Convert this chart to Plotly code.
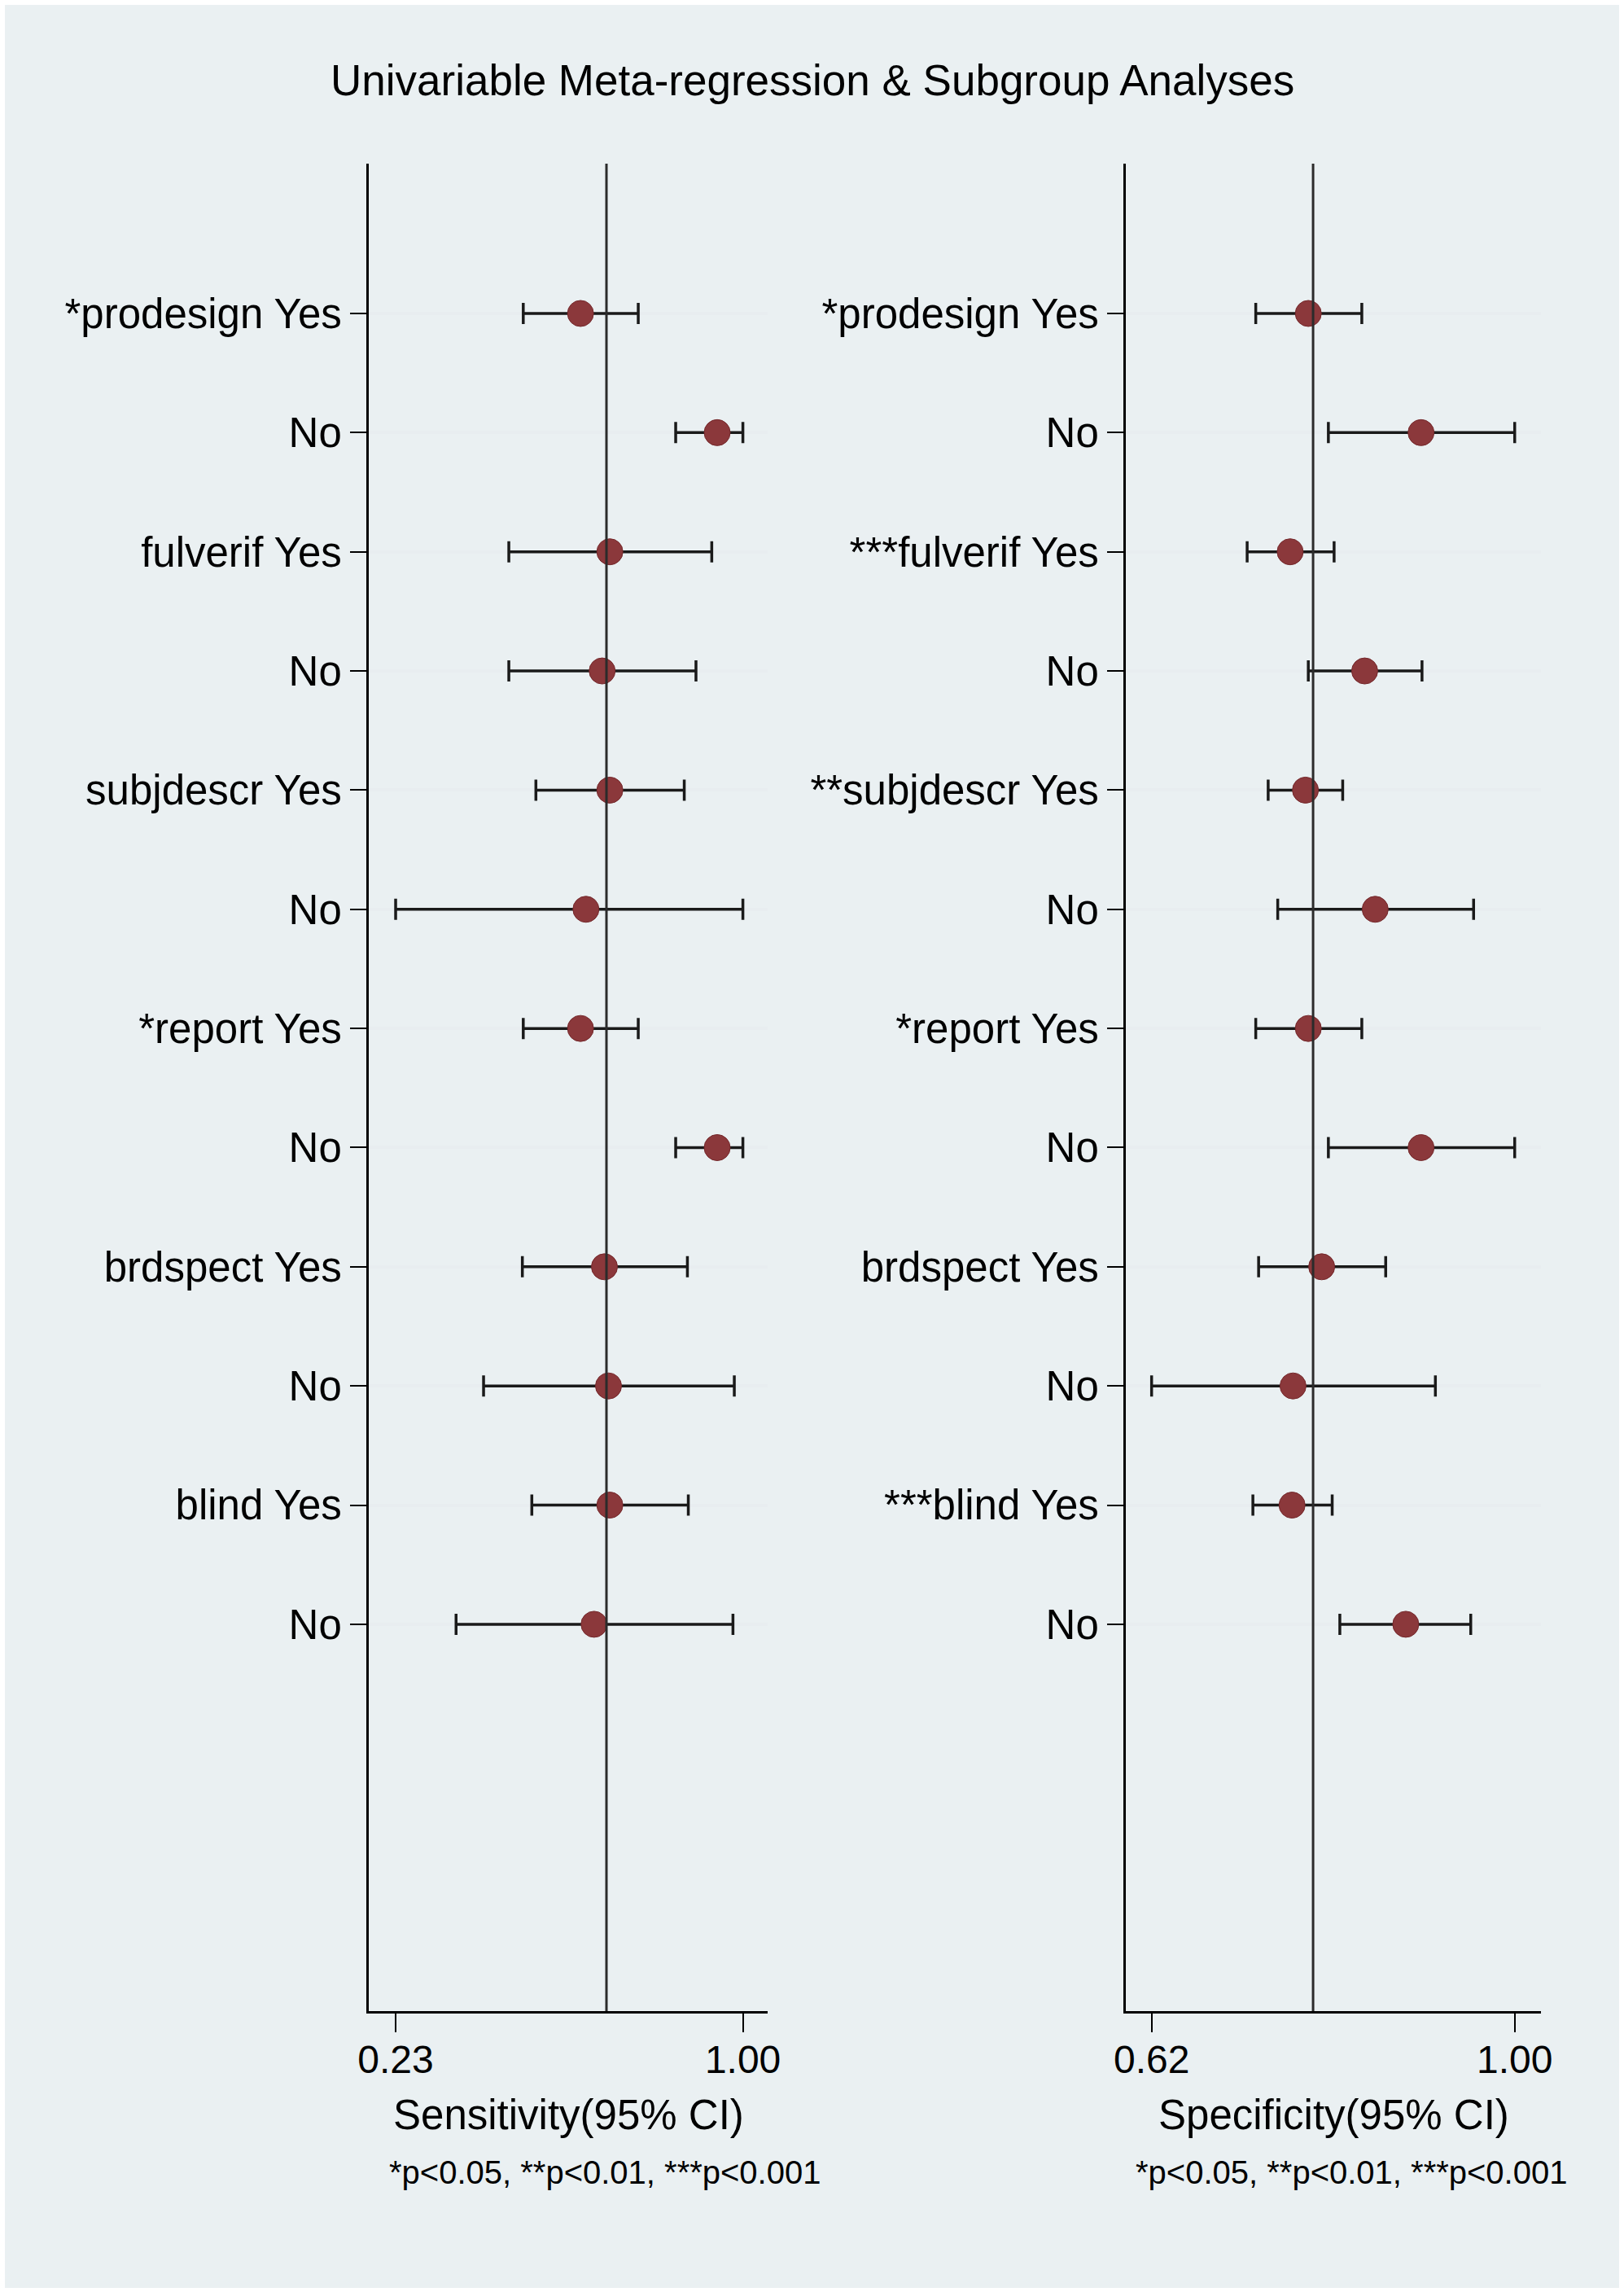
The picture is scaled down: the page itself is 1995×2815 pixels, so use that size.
import plotly.graph_objects as go
from plotly.subplots import make_subplots

# --- data (top row first) ---
rows = list(range(1, 13))

sens_labels = ["*prodesign Yes", "No", "fulverif Yes", "No", "subjdescr Yes", "No",
               "*report Yes", "No", "brdspect Yes", "No", "blind Yes", "No"]
spec_labels = ["*prodesign Yes", "No", "***fulverif Yes", "No", "**subjdescr Yes", "No",
               "*report Yes", "No", "brdspect Yes", "No", "***blind Yes", "No"]

sens_est = [0.640, 0.943, 0.705, 0.688, 0.705, 0.652, 0.640, 0.943, 0.693, 0.702, 0.705, 0.670]
sens_lo = [0.513, 0.851, 0.481, 0.481, 0.541, 0.230, 0.513, 0.851, 0.511, 0.425, 0.532, 0.364]
sens_hi = [0.768, 1.000, 0.931, 0.896, 0.870, 1.000, 0.768, 1.000, 0.877, 0.981, 0.879, 0.978]
sens_pooled = 0.6975

spec_est = [0.784, 0.902, 0.765, 0.843, 0.781, 0.854, 0.784, 0.902, 0.798, 0.768, 0.767, 0.886]
spec_lo = [0.729, 0.805, 0.720, 0.784, 0.742, 0.752, 0.729, 0.805, 0.732, 0.620, 0.726, 0.817]
spec_hi = [0.840, 1.000, 0.811, 0.903, 0.820, 0.957, 0.840, 1.000, 0.865, 0.917, 0.809, 0.954]
spec_pooled = 0.789

sens_ticks = [0.23, 1.00]
spec_ticks = [0.62, 1.00]

W, H = 1995, 2815
FONT = "Liberation Sans, Arial, Helvetica, sans-serif"
BG = "#EAF0F2"
DOT = "#8B383B"

fig = make_subplots(rows=1, cols=2)


def add_panel(col, est, lo, hi):
    fig.add_trace(go.Scatter(
        x=est, y=rows, mode="markers",
        marker=dict(size=32, color=DOT, line=dict(width=1, color="#74282b")),
        error_x=dict(type="data", symmetric=False,
                     array=[h - e for h, e in zip(hi, est)],
                     arrayminus=[e - l for e, l in zip(est, lo)],
                     color="#1a1a1a", thickness=3.5, width=13),
        showlegend=False, hoverinfo="x+y",
    ), row=1, col=col)


add_panel(1, sens_est, sens_lo, sens_hi)
add_panel(2, spec_est, spec_lo, spec_hi)

# pooled reference lines
for xref, val in (("x", sens_pooled), ("x2", spec_pooled)):
    fig.add_shape(type="line", xref=xref, yref=xref.replace("x", "y") + " domain",
                  x0=val, x1=val, y0=0, y1=1,
                  line=dict(color="#2b2b2b", width=3), layer="above")

# outer background panel with thin white border
fig.add_shape(type="rect", xref="paper", yref="paper",
              x0=6 / W, x1=1 - 6 / W, y0=5 / H, y1=1 - 6 / H,
              fillcolor=BG, line=dict(width=0), layer="below")

y_top, y_bot = 201, 2470
ydom = [1 - y_bot / H, 1 - y_top / H]
yrange = [15.246, -0.257]

axis_common = dict(showgrid=False, zeroline=False, showline=True, linecolor="black",
                   linewidth=3, ticks="outside", ticklen=23, tickwidth=2,
                   tickcolor="black", tickformat=".2f", automargin=False,
                   tickfont=dict(family=FONT, size=48, color="black"),
                   ticklabelstandoff=-8)
yaxis_common = dict(range=yrange, tickvals=rows, showgrid=True, gridcolor="#E8EDF0",
                    gridwidth=4, zeroline=False, showline=True, linecolor="black",
                    linewidth=3, ticks="outside", ticklen=20, tickwidth=2,
                    tickcolor="black", automargin=False,
                    tickfont=dict(family=FONT, size=51, color="black"),
                    ticklabelstandoff=0)

fig.update_xaxes(domain=[453 / W, 943 / W], range=[0.1704, 1.0549],
                 tickvals=sens_ticks, row=1, col=1, **axis_common)
fig.update_xaxes(domain=[1383 / W, 1893 / W], range=[0.593, 1.0275],
                 tickvals=spec_ticks, row=1, col=2, **axis_common)
fig.update_yaxes(domain=ydom, ticktext=sens_labels, row=1, col=1, **yaxis_common)
fig.update_yaxes(domain=ydom, ticktext=spec_labels, row=1, col=2, **yaxis_common)

notes = "*p<0.05, **p<0.01, ***p<0.001"
annots = [
    dict(text="Univariable Meta-regression & Subgroup Analyses", x=0.5, y=1 - 98 / H,
         font=dict(size=53)),
    dict(text="Sensitivity(95% CI)", x=698 / W, y=1 - 2597 / H, font=dict(size=51)),
    dict(text="Specificity(95% CI)", x=1638 / W, y=1 - 2597 / H, font=dict(size=51)),
    dict(text=notes, x=476 / W, y=1 - 2668 / H, xanchor="left", font=dict(size=40)),
    dict(text=notes, x=1393 / W, y=1 - 2668 / H, xanchor="left", font=dict(size=40)),
]
for a in annots:
    a.setdefault("xanchor", "center")
    a["font"].update(family=FONT, color="black")
    fig.add_annotation(xref="paper", yref="paper", yanchor="middle",
                       showarrow=False, **a)

fig.update_layout(
    width=W, height=H,
    autosize=False,
    margin=dict(l=0, r=0, t=0, b=0, pad=0),
    paper_bgcolor="white",
    plot_bgcolor="white",
    font=dict(family=FONT, color="black"),
)

# drop the default page margin so the figure sits flush in the window
fig.write_html("out.html", config={"displayModeBar": False},
               post_script="document.body.style.margin='0';"
                           "document.body.style.overflow='hidden';")
